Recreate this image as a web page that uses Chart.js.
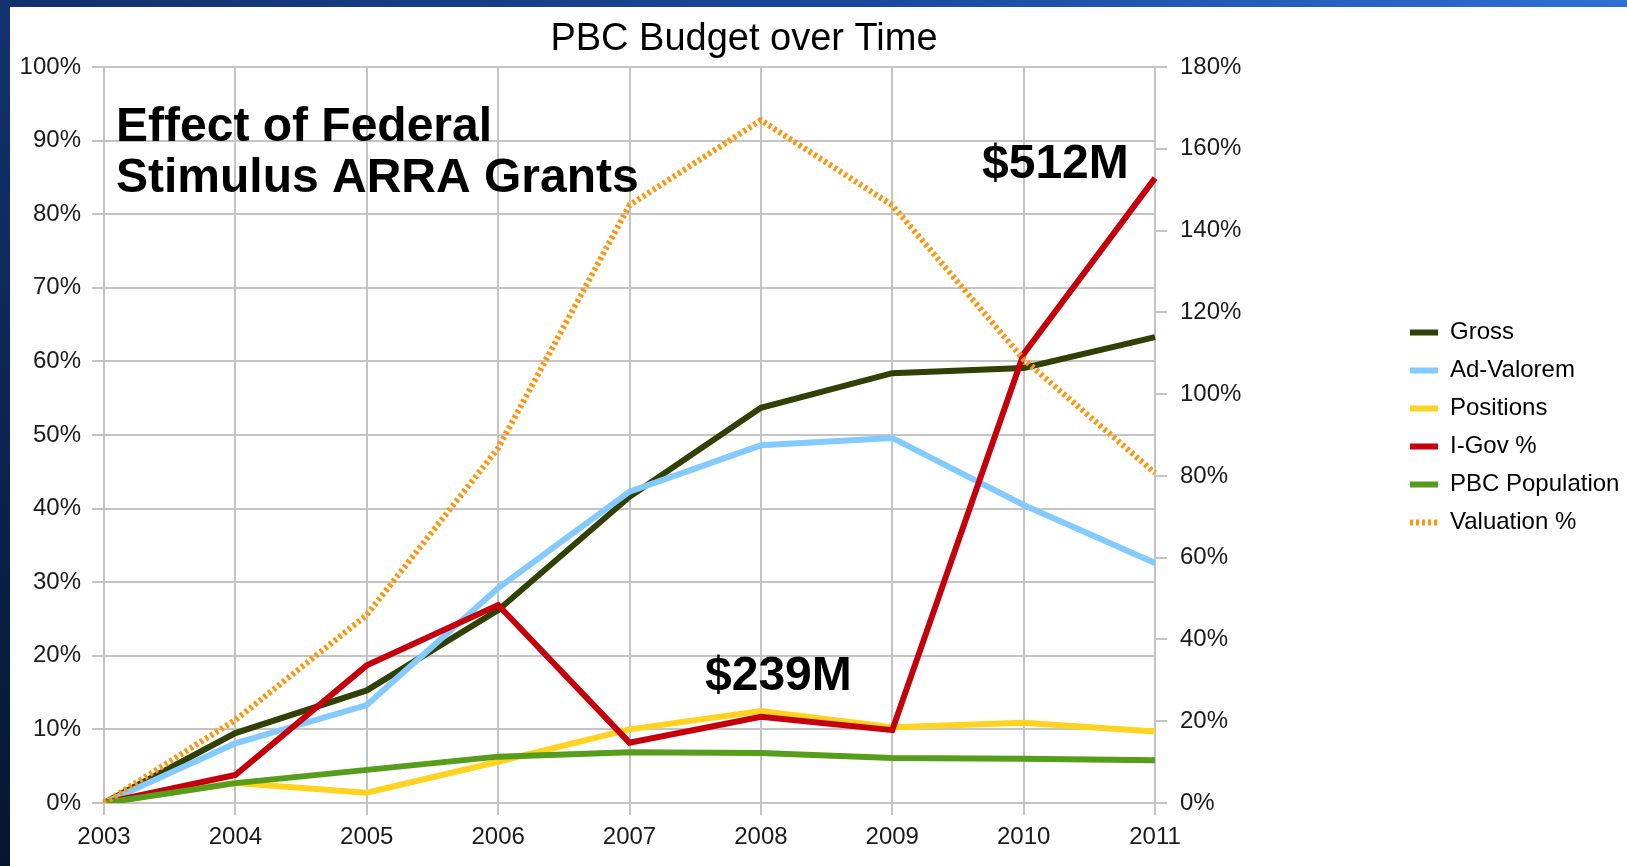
<!DOCTYPE html>
<html>
<head>
<meta charset="utf-8">
<title>PBC Budget over Time</title>
<script src="https://cdn.jsdelivr.net/npm/chart.js@4.4.1/dist/chart.umd.min.js"></script>
<style>
  html, body { margin: 0; padding: 0; background: #fff; }
  body { width: 1627px; height: 866px; position: relative; overflow: hidden; }
  #topbar { position: absolute; left: 0; top: 0; width: 1627px; height: 7px;
    background: linear-gradient(90deg, #12306b 0%, #1a4a9e 55%, #2f6fd6 100%); }
  #leftbar { position: absolute; left: 0; top: 0; width: 10px; height: 866px;
    background: linear-gradient(180deg, #13336f 0%, #0c2451 50%, #071630 100%); }
  #wrap { position: absolute; left: 10px; top: 7px; width: 1617px; height: 859px; }
</style>
</head>
<body>
<div id="topbar"></div>
<div id="leftbar"></div>
<div id="wrap"><canvas id="budgetChart"></canvas></div>
<script>
// growth since 2003, in percent
const years = ['2003', '2004', '2005', '2006', '2007', '2008', '2009', '2010', '2011'];
const gross = [0, 9.5, 15.3, 26.2, 41.6, 53.7, 58.4, 59.1, 63.3];
const adValorem = [0, 8.1, 13.3, 29.2, 42.3, 48.6, 49.6, 40.5, 32.6];
const positions = [0, 2.7, 1.4, 5.6, 10.0, 12.5, 10.3, 10.9, 9.7];
const iGov = [0, 3.8, 18.7, 26.9, 8.2, 11.7, 9.9, 61.0, 84.9];
const population = [0, 2.7, 4.5, 6.3, 6.9, 6.8, 6.1, 6.0, 5.8];
// valuation uses the right-hand axis
const valuation = [0, 20.3, 46.0, 86.8, 146.2, 167.0, 146.2, 108.5, 80.7];

const chartTitle = 'PBC Budget over Time';
const noteLines = ['Effect of Federal', 'Stimulus ARRA Grants'];
const callout2011 = '$512M';
const callout2008 = '$239M';

const FONT = '"Liberation Sans", Arial, sans-serif';
const GRID = '#c4c4c4';

// title and callouts drawn straight onto the canvas, legend nudged into place
const chartText = {
    id: 'chartText',
    afterLayout(chart) {
        const lg = chart.legend;
        lg.left = 1386;
        lg.right = lg.left + lg.width;
        lg.top = 2;
        lg.bottom = 839;
    },
    afterDraw(chart) {
        const ctx = chart.ctx;
        ctx.save();
        ctx.fillStyle = '#000';
        ctx.textBaseline = 'alphabetic';

        ctx.font = '38px ' + FONT;
        ctx.textAlign = 'center';
        ctx.fillText(chartTitle, 734, 43);

        ctx.textAlign = 'left';
        ctx.font = 'bold 48px ' + FONT;
        ctx.fillText(noteLines[0], 106, 134);
        ctx.fillText(noteLines[1], 106, 185);
        ctx.fillText(callout2011, 972, 171);
        ctx.fillText(callout2008, 695, 683);
        ctx.restore();
    }
};

function series(label, data, color, order, extra) {
    return Object.assign({
        label: label,
        data: data,
        borderColor: color,
        backgroundColor: color,
        borderWidth: 6,
        pointRadius: 0,
        pointHoverRadius: 0,
        tension: 0,
        fill: false,
        order: order,
        yAxisID: 'y'
    }, extra || {});
}

const ctx = document.getElementById('budgetChart').getContext('2d');
new Chart(ctx, {
    type: 'line',
    data: {
        labels: years,
        datasets: [
            series('Gross', gross, '#314004', 5),
            series('Ad-Valorem', adValorem, '#83caff', 4),
            series('Positions', positions, '#ffd320', 3),
            series('I-Gov %', iGov, '#c5000b', 2),
            series('PBC Population', population, '#579d1c', 1),
            series('Valuation %', valuation, '#ff950e', 0, {
                borderWidth: 6,
                borderDash: [3, 3],
                yAxisID: 'y1'
            })
        ]
    },
    options: {
        responsive: true,
        maintainAspectRatio: false,
        devicePixelRatio: 1,
        animation: false,
        layout: { padding: { top: 60, right: 0, bottom: 0, left: 0 } },
        plugins: {
            title: { display: false },
            tooltip: { enabled: false },
            legend: {
                position: 'right',
                align: 'center',
                labels: {
                    usePointStyle: true,
                    pointStyle: 'line',
                    pointStyleWidth: 28,
                    padding: 14,
                    color: '#000',
                    font: { family: FONT, size: 24 },
                    sort: (a, b) => a.datasetIndex - b.datasetIndex,
                    // point-style items lose the dataset dash, put it back
                    generateLabels(chart) {
                        const items = Chart.defaults.plugins.legend.labels.generateLabels(chart);
                        items.forEach(item => {
                            const ds = chart.data.datasets[item.datasetIndex];
                            item.lineDash = ds.borderDash || [];
                        });
                        return items;
                    }
                }
            }
        },
        scales: {
            x: {
                offset: false,
                grid: { color: GRID, lineWidth: 2, tickLength: 12, offset: false },
                border: { color: GRID, width: 2 },
                ticks: {
                    color: '#1a1a1a',
                    font: { family: FONT, size: 24 },
                    padding: 8,
                    maxRotation: 0,
                    autoSkip: false
                },
                afterFit(s) { s.height = 63; }
            },
            y: {
                position: 'left',
                min: 0,
                max: 100,
                grid: { color: GRID, lineWidth: 2, tickLength: 12 },
                border: { color: GRID, width: 2 },
                ticks: {
                    stepSize: 10,
                    color: '#1a1a1a',
                    font: { family: FONT, size: 24 },
                    padding: 11,
                    callback: v => v + '%'
                },
                afterFit(s) { s.width = 94; }
            },
            y1: {
                position: 'right',
                min: 0,
                max: 180,
                grid: { color: GRID, lineWidth: 2, tickLength: 12, drawOnChartArea: false },
                border: { color: GRID, width: 2 },
                ticks: {
                    stepSize: 20,
                    color: '#1a1a1a',
                    font: { family: FONT, size: 24 },
                    padding: 13,
                    callback: v => v + '%'
                },
                afterFit(s) { s.width = 1617 - 1145 - s.chart.legend.width; }
            }
        }
    },
    plugins: [chartText]
});
</script>
</body>
</html>
